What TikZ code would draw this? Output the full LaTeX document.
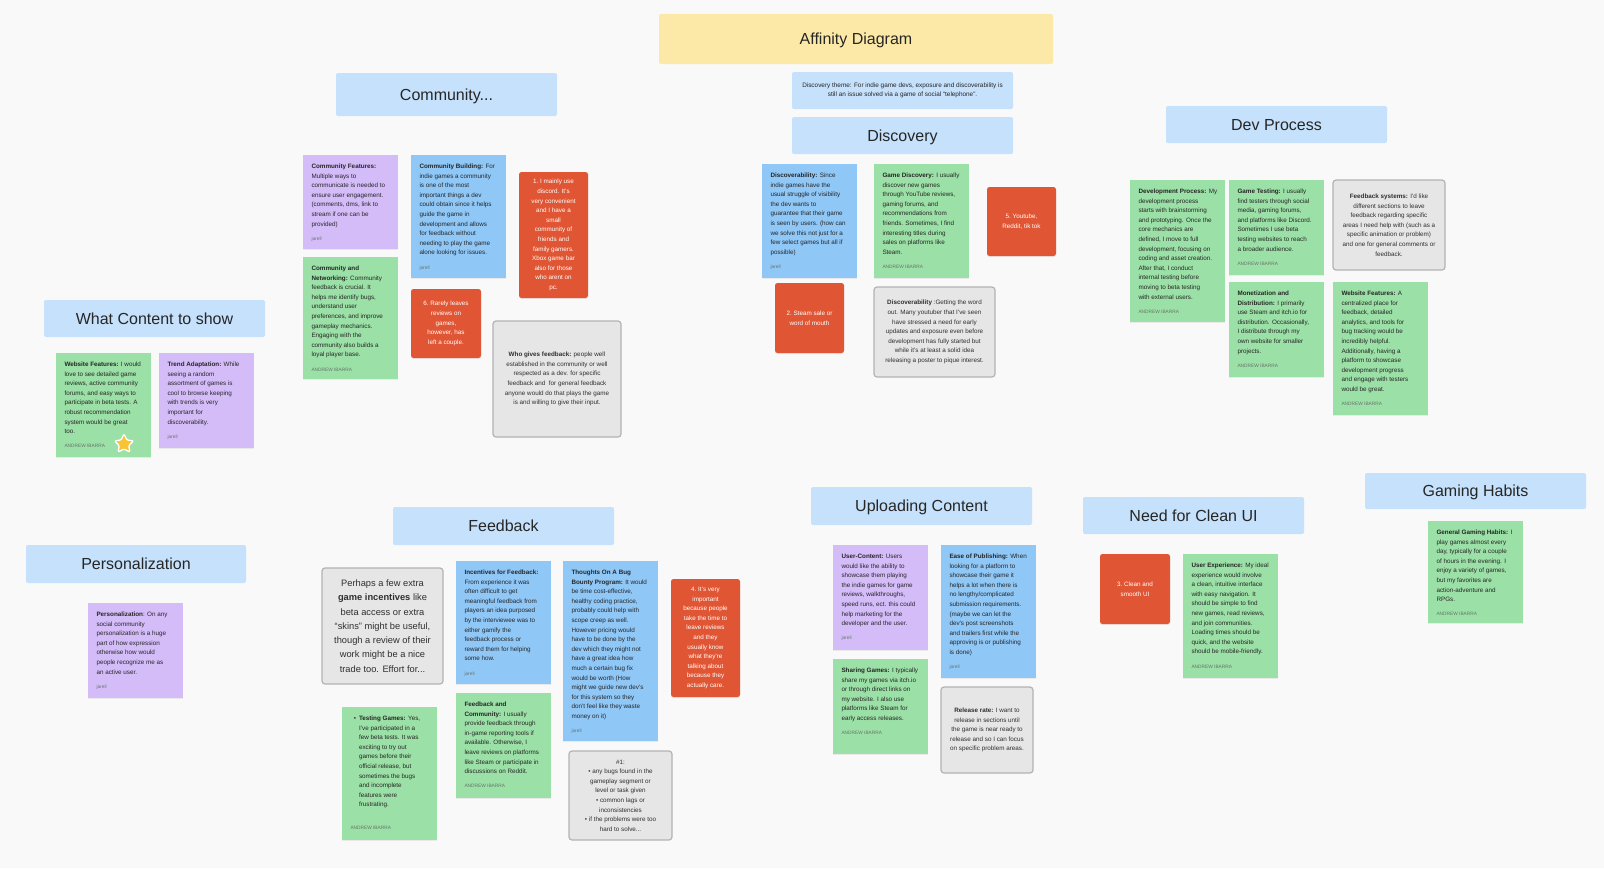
\documentclass[tikz,border=0pt]{standalone}
\usepackage{fontspec}
\setmainfont{Liberation Sans}
\usetikzlibrary{fit,shadows,shapes.geometric}
\definecolor{bg}{HTML}{F9F9F9}
\definecolor{hblue}{HTML}{C5E1FB}
\definecolor{ytitle}{HTML}{FCE9A8}
\definecolor{ngreen}{HTML}{9BE0A6}
\definecolor{nblue}{HTML}{8FC7F7}
\definecolor{npurple}{HTML}{D4BCF9}
\definecolor{nred}{HTML}{E05533}
\definecolor{ngrey}{HTML}{E6E6E6}
\definecolor{greyb}{HTML}{B3B3B3}
\definecolor{tdark}{HTML}{262626}
\definecolor{tgrey}{HTML}{2F2F2F}
\definecolor{auth}{HTML}{66766A}
\definecolor{staryel}{HTML}{F8C433}
\tikzset{
  shd/.style={drop shadow={shadow xshift=0pt,shadow yshift=-1.2pt,opacity=0.13}},
  base/.style={inner sep=0pt, outer sep=0pt},
  heading/.style={base, fill=hblue, rounded corners=2pt},
  htext/.style={base, font=\fontsize{16}{19}\selectfont, text=tdark, text height=11.6pt, text depth=0pt},
  themetext/.style={base, align=center, text=tdark, font=\fontsize{6.4}{9.3}\selectfont},
  gnote/.style={base, fill=ngreen, shd},
  bnote/.style={base, fill=nblue, shd},
  pnote/.style={base, fill=npurple, shd},
  rnote/.style={base, fill=nred, rounded corners=2.5pt, shd},
  rtext/.style={base, align=center, text=white, font=\fontsize{6.3}{9.6}\selectfont},
  ynote/.style={base, draw=greyb, fill=ngrey, line width=1.2pt, rounded corners=3pt},
  ytext/.style={base, align=center, text=tgrey, font=\fontsize{6.3}{9.6}\selectfont},
  body/.style={base, anchor=north west, align=left, text=tdark, font=\fontsize{6.3}{9.6}\selectfont},
  authsty/.style={base, text=auth, font=\fontsize{4.8}{5.5}\selectfont},
}
\newcommand\who[1]{\\[4.5pt]{\fontsize{4.8}{5.5}\selectfont\color{auth}#1}}
\newcommand\mk[6]{\node[#2, fit={(#3,#4) (#5,#6)}] (#1) {};}
\newcommand\ntext[2]{\node[body] (#1t) at ([xshift=8.5pt,yshift=-9pt]#1.north west) {#2};}
\newcommand\ctext[3]{\node[#2] (#1t) at (#1.center) {#3};}
\begin{document}
\begin{tikzpicture}[x=1pt,y=-1pt]
\fill[bg] (0,0) rectangle (1604,868);
\useasboundingbox (0,0) rectangle (1604,868);

% headings
\mk{title}{heading, fill=ytitle}{659}{14}{1053}{64}
\ctext{title}{htext}{Affinity Diagram}
\mk{hcomm}{heading}{336}{73}{557}{116}
\ctext{hcomm}{htext}{Community...}
\mk{theme}{heading}{792}{72}{1013}{109}
\ctext{theme}{themetext}{Discovery theme: For indie game devs, exposure and discoverability is\\still an issue solved via a game of social “telephone”.}
\mk{hdisc}{heading}{792}{117}{1013}{154}
\ctext{hdisc}{htext}{Discovery}
\mk{hdev}{heading}{1166}{106}{1387}{143}
\ctext{hdev}{htext}{Dev Process}
\mk{hwhat}{heading}{44}{300}{265}{337}
\ctext{hwhat}{htext}{What Content to show}
\mk{hpers}{heading}{26}{545}{246}{583}
\ctext{hpers}{htext}{Personalization}
\mk{hfeed}{heading}{393}{507}{614}{545}
\ctext{hfeed}{htext}{Feedback}
\mk{hup}{heading}{811}{487}{1032}{525}
\ctext{hup}{htext}{Uploading Content}
\mk{hui}{heading}{1083}{497}{1304}{534}
\ctext{hui}{htext}{Need for Clean UI}
\mk{hgame}{heading}{1365}{473}{1586}{509}
\ctext{hgame}{htext}{Gaming Habits}

% Community
\mk{cf}{pnote}{303}{155}{398}{249}
\ntext{cf}{\textbf{Community Features:}\\Multiple ways to\\communicate is needed to\\ensure user engagement.\\(comments, dms, link to\\stream if one can be\\provided)\who{jarell}}
\mk{cb}{bnote}{411}{155}{506}{278}
\ntext{cb}{\textbf{Community Building:} For\\indie games a community\\is one of the most\\important things a dev\\could obtain since it helps\\guide the game in\\development and allows\\for feedback without\\needing to play the game\\alone looking for issues.\who{jarell}}
\mk{r1}{rnote}{519}{172}{588}{298}
\ctext{r1}{rtext}{1.\ I mainly use\\discord. It's\\very convenient\\and I have a\\small\\community of\\friends and\\family gamers.\\Xbox game bar\\also for those\\who arent on\\pc.}
\mk{cn}{gnote}{303}{257}{398}{379}
\ntext{cn}{\textbf{Community and}\\\textbf{Networking:} Community\\feedback is crucial. It\\helps me identify bugs,\\understand user\\preferences, and improve\\gameplay mechanics.\\Engaging with the\\community also builds a\\loyal player base.\who{ANDREW IBARRA}}
\mk{r6}{rnote}{411}{289}{481}{358}
\ctext{r6}{rtext}{6.\ Rarely leaves\\reviews on\\games,\\however, has\\left a couple.}
\mk{wg}{ynote}{493}{321}{621}{437}
\ctext{wg}{ytext}{\textbf{Who gives feedback:} people well\\established in the community or well\\respected as a dev. for specific\\feedback and\ \ for general feedback\\anyone would do that plays the game\\is and willing to give their input.}

% What content
\mk{wf}{gnote}{56}{353}{151}{457}
\ntext{wf}{\textbf{Website Features:} I would\\love to see detailed game\\reviews, active community\\forums, and easy ways to\\participate in beta tests. A\\robust recommendation\\system would be great\\too.\who{ANDREW IBARRA}}
\node[star, star points=5, star point ratio=2.0, fill=staryel, draw=white, line width=1.3pt, rounded corners=1.2pt, minimum size=20pt, inner sep=0pt] (star) at (124,444) {};
\mk{ta}{pnote}{159}{353}{254}{448}
\ntext{ta}{\textbf{Trend Adaptation:} While\\seeing a random\\assortment of games is\\cool to browse keeping\\with trends is very\\important for\\discoverability.\who{jarell}}

% Discovery
\mk{dv}{bnote}{762}{164}{857}{278}
\ntext{dv}{\textbf{Discoverability:} Since\\indie games have the\\usual struggle of visibility\\the dev wants to\\guarantee that their game\\is seen by users. (how can\\we solve this not just for a\\few select games but all if\\possible)\who{jarell}}
\mk{gd}{gnote}{874}{164}{969}{278}
\ntext{gd}{\textbf{Game Discovery:} I usually\\discover new games\\through YouTube reviews,\\gaming forums, and\\recommendations from\\friends. Sometimes, I find\\interesting titles during\\sales on platforms like\\Steam.\who{ANDREW IBARRA}}
\mk{r5}{rnote}{987}{187}{1056}{256}
\ctext{r5}{rtext}{5.\ Youtube,\\Reddit, tik tok}
\mk{r2}{rnote}{775}{283}{844}{353}
\ctext{r2}{rtext}{2.\ Steam sale or\\word of mouth}
\mk{dg}{ynote}{874}{287}{995}{377}
\ctext{dg}{ytext}{\textbf{Discoverability} :Getting the word\\out. Many youtuber that I've seen\\have stressed a need for early\\updates and exposure even before\\development has fully started but\\while it's at least a solid idea\\releasing a poster to pique interest.}

% Dev process
\mk{dp}{gnote}{1130}{180}{1225}{322}
\ntext{dp}{\textbf{Development Process:} My\\development process\\starts with brainstorming\\and prototyping. Once the\\core mechanics are\\defined, I move to full\\development, focusing on\\coding and asset creation.\\After that, I conduct\\internal testing before\\moving to beta testing\\with external users.\who{ANDREW IBARRA}}
\mk{gt}{gnote}{1229}{180}{1324}{275}
\ntext{gt}{\textbf{Game Testing:} I usually\\find testers through social\\media, gaming forums,\\and platforms like Discord.\\Sometimes I use beta\\testing websites to reach\\a broader audience.\who{ANDREW IBARRA}}
\mk{fs}{ynote}{1333}{180}{1445}{270}
\ctext{fs}{ytext}{\textbf{Feedback systems:} I'd like\\different sections to leave\\feedback regarding specific\\areas I need help with (such as a\\specific animation or problem)\\and one for general comments or\\feedback.}
\mk{md}{gnote}{1229}{282}{1324}{377}
\ntext{md}{\textbf{Monetization and}\\\textbf{Distribution:} I primarily\\use Steam and itch.io for\\distribution. Occasionally,\\I distribute through my\\own website for smaller\\projects.\who{ANDREW IBARRA}}
\mk{wx}{gnote}{1333}{282}{1428}{415}
\ntext{wx}{\textbf{Website Features:} A\\centralized place for\\feedback, detailed\\analytics, and tools for\\bug tracking would be\\incredibly helpful.\\Additionally, having a\\platform to showcase\\development progress\\and engage with testers\\would be great.\who{ANDREW IBARRA}}

% Personalization
\mk{ps}{pnote}{88}{603}{183}{698}
\ntext{ps}{\textbf{Personalization}: On any\\social community\\personalization is a huge\\part of how expression\\otherwise how would\\people recognize me as\\an active user.\who{jarell}}

% Feedback
\mk{pe}{ynote}{322}{568}{443}{684}
\ctext{pe}{ytext, font=\fontsize{9.3}{14.3}\selectfont}{Perhaps a few extra\\\textbf{game incentives} like\\beta access or extra\\“skins” might be useful,\\though a review of their\\work might be a nice\\trade too. Effort for...}
\mk{if}{bnote}{456}{561}{551}{684}
\ntext{if}{\textbf{Incentives for Feedback:}\\From experience it was\\often difficult to get\\meaningful feedback from\\players an idea purposed\\by the interviewee was to\\either gamify the\\feedback process or\\reward them for helping\\some how.\who{jarell}}
\mk{bb}{bnote}{563}{561}{658}{741}
\ntext{bb}{\textbf{Thoughts On A Bug}\\\textbf{Bounty Program:} It would\\be time cost-effective,\\healthy coding practice,\\probably could help with\\scope creep as well.\\However pricing would\\have to be done by the\\dev which they might not\\have a great idea how\\much a certain bug fix\\would be worth (How\\might we guide new dev's\\for this system so they\\don't feel like they waste\\money on it)\who{jarell}}
\mk{r4}{rnote}{671}{579}{740}{697}
\ctext{r4}{rtext}{4.\ It's very\\important\\because people\\take the time to\\leave reviews\\and they\\usually know\\what they're\\talking about\\because they\\actually care.}
\mk{fc}{gnote}{456}{693}{551}{798}
\ntext{fc}{\textbf{Feedback and}\\\textbf{Community:} I usually\\provide feedback through\\in-game reporting tools if\\available. Otherwise, I\\leave reviews on platforms\\like Steam or participate in\\discussions on Reddit.\who{ANDREW IBARRA}}
\mk{tg}{gnote}{342}{707}{437}{840}
\node[body] (tgt) at ([xshift=17pt,yshift=-9pt]tg.north west) {\llap{\textbullet\hspace{3pt}}\textbf{Testing Games:} Yes,\\I've participated in a\\few beta tests. It was\\exciting to try out\\games before their\\official release, but\\sometimes the bugs\\and incomplete\\features were\\frustrating.};
\node[authsty, anchor=west] (tga) at (350.5,828) {ANDREW IBARRA};
\mk{n1}{ynote}{569}{751}{672}{840}
\ctext{n1}{ytext}{\#1:\\\textbullet\ any bugs found in the\\gameplay segment or\\level or task given\\\textbullet\ common lags or\\inconsistencies\\\textbullet\ if the problems were too\\hard to solve...}

% Uploading content
\mk{uc}{pnote}{833}{545}{928}{650}
\ntext{uc}{\textbf{User-Content:} Users\\would like the ability to\\showcase them playing\\the indie games for game\\reviews, walkthroughs,\\speed runs, ect. this could\\help marketing for the\\developer and the user.\who{jarell}}
\mk{ep}{bnote}{941}{545}{1036}{678}
\ntext{ep}{\textbf{Ease of Publishing:} When\\looking for a platform to\\showcase their game it\\helps a lot when there is\\no lengthy/complicated\\submission requirements.\\(maybe we can let the\\dev's post screenshots\\and trailers first while the\\approving is or publishing\\is done)\who{jarell}}
\mk{sg}{gnote}{833}{659}{928}{754}
\ntext{sg}{\textbf{Sharing Games:} I typically\\share my games via itch.io\\or through direct links on\\my website. I also use\\platforms like Steam for\\early access releases.\who{ANDREW IBARRA}}
\mk{rr}{ynote}{941}{687}{1033}{773}
\ctext{rr}{ytext}{\textbf{Release rate:} I want to\\release in sections until\\the game is near ready to\\release and so I can focus\\on specific problem areas.}

% Clean UI
\mk{r3}{rnote}{1100}{554}{1170}{624}
\ctext{r3}{rtext}{3.\ Clean and\\smooth UI}
\mk{ux}{gnote}{1183}{554}{1278}{678}
\ntext{ux}{\textbf{User Experience:} My ideal\\experience would involve\\a clean, intuitive interface\\with easy navigation. It\\should be simple to find\\new games, read reviews,\\and join communities.\\Loading times should be\\quick, and the website\\should be mobile-friendly.\who{ANDREW IBARRA}}

% Gaming habits
\mk{gh}{gnote}{1428}{521}{1523}{623}
\ntext{gh}{\textbf{General Gaming Habits:} I\\play games almost every\\day, typically for a couple\\of hours in the evening. I\\enjoy a variety of games,\\but my favorites are\\action-adventure and\\RPGs.\who{ANDREW IBARRA}}
\end{tikzpicture}
\end{document}
